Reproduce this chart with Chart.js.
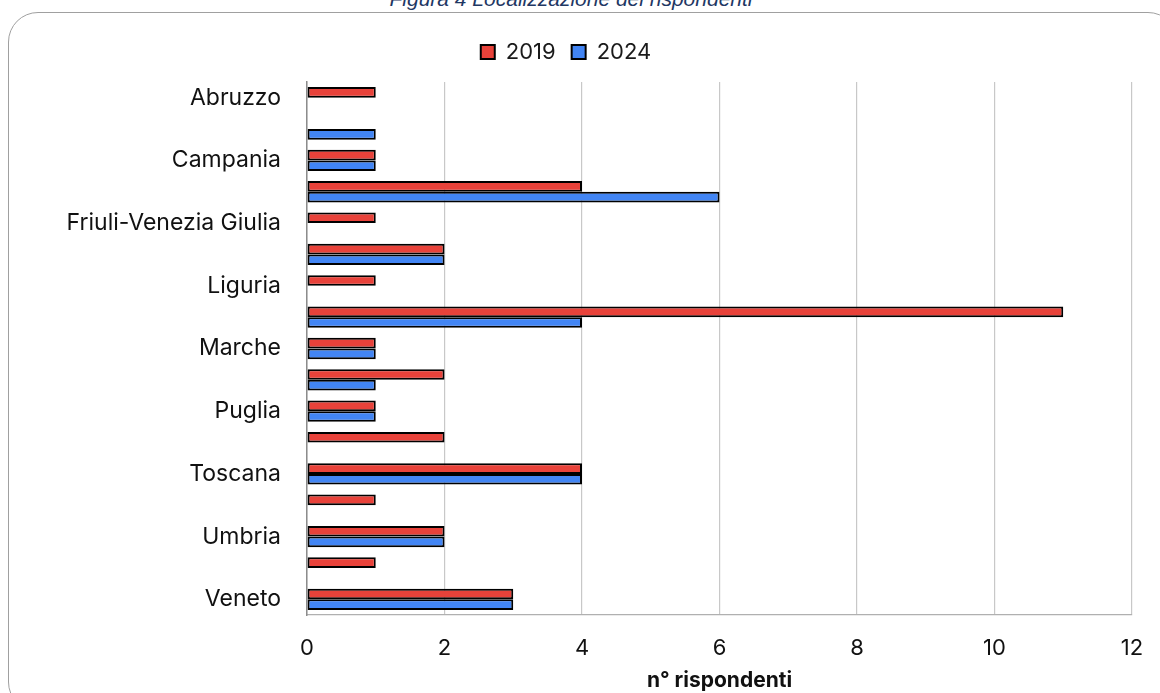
<!DOCTYPE html>
<html>
<head>
<meta charset="utf-8">
<script src="https://cdn.jsdelivr.net/npm/chart.js@4.4.1/dist/chart.umd.min.js"></script>
<style>
    html, body {
        margin: 0;
        padding: 0;
        background: #ffffff;
        overflow: hidden;
    }
    #wrap {
        position: relative;
        width: 1160px;
        height: 693px;
    }
    #frame {
        position: absolute;
        left: 8px;
        top: 12px;
        width: 1170px;
        height: 700px;
        border: 1.5px solid #a0a0a0;
        border-radius: 30px;
        box-sizing: border-box;
    }
    #caption {
        position: absolute;
        left: 0;
        top: -12px;
        width: 1142px;
        text-align: center;
        font-family: 'Liberation Sans', Arial, sans-serif;
        font-style: italic;
        font-size: 21px;
        line-height: 21px;
        color: #1f3864;
    }
    canvas {
        position: absolute;
        left: 0;
        top: 0;
    }
</style>
</head>
<body>
<div id="wrap">
    <div id="frame"></div>
    <div id="caption">Figura 4 Localizzazione dei rispondenti</div>
    <canvas id="chart" width="1160" height="693"></canvas>
</div>
<script>
const regions = [
    'Abruzzo', 'Calabria', 'Campania', 'Emilia-Romagna', 'Friuli-Venezia Giulia',
    'Lazio', 'Liguria', 'Lombardia', 'Marche', 'Piemonte', 'Puglia', 'Sicilia',
    'Toscana', 'Trentino-Alto Adige', 'Umbria', "Valle d'Aosta", 'Veneto',
];
const values2019 = [1, 0, 1, 4, 1, 2, 1, 11, 1, 2, 1, 2, 4, 1, 2, 1, 3];
const values2024 = [0, 1, 1, 6, 0, 2, 0, 4, 1, 1, 1, 0, 4, 0, 2, 0, 3];
const xTicks = [0, 2, 4, 6, 8, 10, 12];

const fontFamily = "Inter, 'Liberation Sans', Arial, sans-serif";
const hideZero = (ctx) => (ctx.raw === 0 ? 0 : 2);

// a bit of extra room between the legend and the plot
const legendGap = {
    id: 'legendGap',
    afterInit(chart) {
        const fit = chart.legend.fit;
        chart.legend.fit = function () {
            fit.call(this);
            this.height += 9;
        };
    },
};

new Chart(document.getElementById('chart'), {
    type: 'bar',
    data: {
        labels: regions,
        datasets: [
            {
                label: '2019',
                data: values2019,
                backgroundColor: '#e8423a',
                borderColor: '#000000',
                borderWidth: hideZero,
                borderSkipped: false,
            },
            {
                label: '2024',
                data: values2024,
                backgroundColor: '#4285f4',
                borderColor: '#000000',
                borderWidth: hideZero,
                borderSkipped: false,
            },
        ],
    },
    plugins: [legendGap],
    options: {
        indexAxis: 'y',
        responsive: false,
        animation: false,
        categoryPercentage: 0.68,
        barPercentage: 1,
        layout: {
            padding: { top: 25, right: 28, left: 0, bottom: 0 },
        },
        plugins: {
            legend: {
                position: 'top',
                labels: {
                    color: '#1a1a1a',
                    boxWidth: 14,
                    boxHeight: 14,
                    padding: 16,
                    font: { family: fontFamily, size: 22 },
                    generateLabels: (chart) =>
                        Chart.defaults.plugins.legend.labels.generateLabels(chart).map((item) => ({
                            ...item,
                            lineWidth: 2,
                            strokeStyle: '#000000',
                        })),
                },
            },
            tooltip: { enabled: false },
        },
        scales: {
            x: {
                min: 0,
                max: 12,
                afterBuildTicks: (scale) => {
                    scale.ticks = xTicks.map((value) => ({ value }));
                },
                afterFit: (scale) => {
                    scale.height = 78;
                    scale.paddingRight = 10;
                },
                grid: {
                    color: '#c8c8c8',
                    lineWidth: 1.2,
                    drawTicks: false,
                },
                border: { color: '#b0b0b0', width: 1.2 },
                ticks: {
                    color: '#111111',
                    padding: 20,
                    font: { family: fontFamily, size: 22 },
                },
                title: {
                    display: true,
                    text: 'n° rispondenti',
                    color: '#111111',
                    padding: { top: 0, bottom: 0 },
                    font: { family: fontFamily, size: 21, weight: 'bold' },
                },
            },
            y: {
                afterFit: (scale) => {
                    scale.width = 307;
                },
                grid: { display: false, drawTicks: false },
                border: { color: '#8c8c8c', width: 1.5 },
                ticks: {
                    autoSkip: false,
                    color: '#111111',
                    padding: 26,
                    font: { family: fontFamily, size: 23 },
                    callback: function (value, index) {
                        return index % 2 === 0 ? this.getLabelForValue(value) : '';
                    },
                },
            },
        },
    },
});
</script>
</body>
</html>
